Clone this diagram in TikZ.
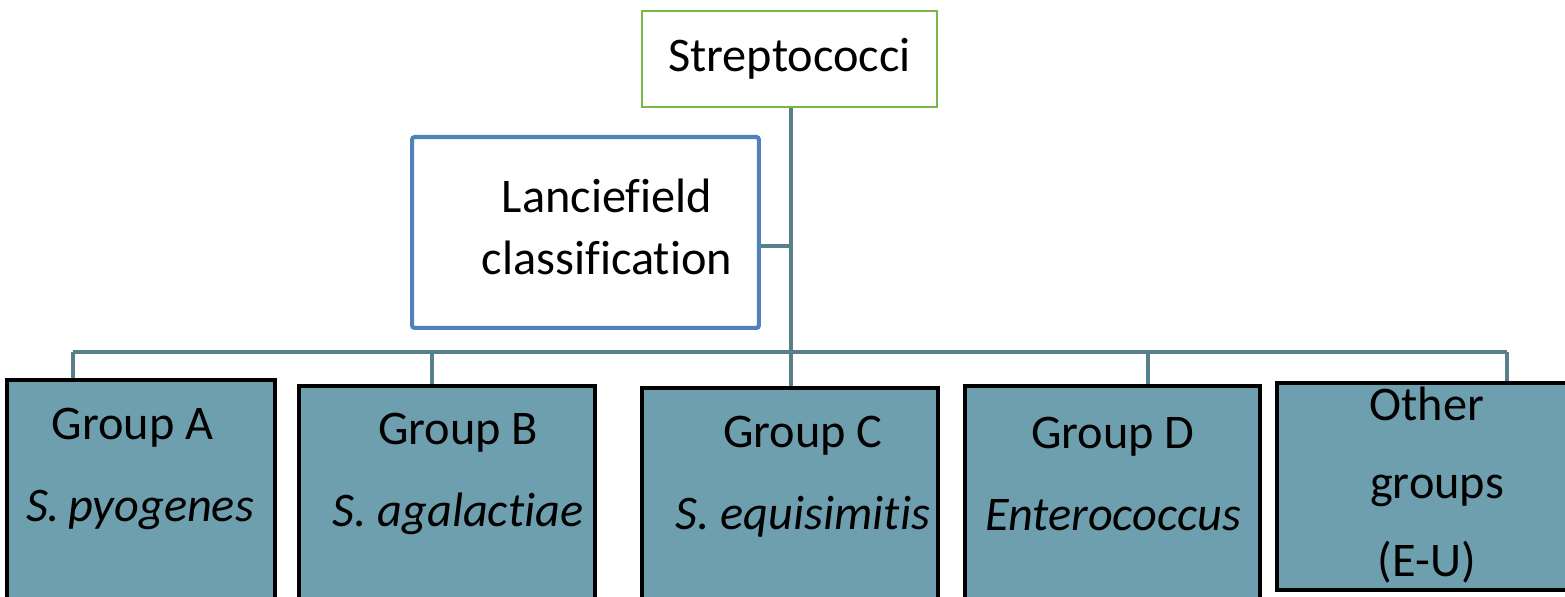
\documentclass[tikz,border=0pt]{standalone}
\usepackage{fontspec}
\setmainfont{Carlito}[Ligatures={NoCommon}]
\usepackage{xcolor}
\definecolor{StrepGreen}{HTML}{7AB648}
\definecolor{LanceBlue}{HTML}{4F81BD}
\definecolor{GroupFill}{HTML}{6E9FAE}
\definecolor{LinkTeal}{HTML}{58808C}
\usetikzlibrary{positioning, calc}

\begin{document}
\begin{tikzpicture}[
  x=0.02cm, y=-0.02cm,
  every node/.style={font=\fontsize{27.5}{46.7}\selectfont, inner sep=0pt},
  topbox/.style={rectangle, draw=StrepGreen, line width=1.3pt, fill=white, minimum width=5.9cm, minimum height=1.92cm},
  lancebox/.style={rectangle, rounded corners=1.5pt, draw=LanceBlue, line width=2.3pt, fill=white, minimum width=6.94cm, minimum height=3.82cm},
  grpbox/.style={rectangle, draw=black, line width=2.2pt, fill=GroupFill, minimum height=4.4cm},
  grptext/.style={align=center},
  trunk/.style={draw=LinkTeal, line width=2.2pt},
  drop/.style={draw=LinkTeal, line width=1.8pt}
]
  \useasboundingbox (0,0) rectangle (1565,597);
  \clip (0,0) rectangle (1565,597);

  % Top of the tree
  \node[topbox] (strep) at (789.5,59) {Streptococci};
  \node[lancebox] (lance) at (585.5,232.5) {};
  \node[grptext, font=\fontsize{27.5}{35.3}\selectfont] (lancetxt) at (607,227) {Lanciefield\\classification};

  % Groups
  \node[grpbox, minimum width=5.36cm, anchor=north] (grpA) at (141,378) {};
  \node[grpbox, minimum width=5.92cm, anchor=north] (grpB) at (447,384) {};
  \node[grpbox, minimum width=5.92cm, anchor=north] (grpC) at (790,386) {};
  \node[grpbox, minimum width=5.9cm, anchor=north] (grpD) at (1112.5,384) {};
  \node[grpbox, minimum width=5.8cm, minimum height=4.14cm, anchor=north] (grpE) at (1422,381) {};

  \node[grptext] (txtA) at (140,469) {\hspace*{-0.3cm}Group A\\\textit{S.\,pyogenes}};
  \node[grptext] (txtB) at (458,474) {Group B\\\textit{S. agalactiae}};
  \node[grptext] (txtC) at (803,477) {Group C\\\textit{S. equisimitis}};
  \node[grptext] (txtD) at (1113,474) {Group D\\\textit{Enterococcus}};
  \node[grptext, font=\fontsize{27.5}{44.5}\selectfont] (txtE) at (1427,485) {Other\\\hspace*{0.4cm}groups\\(E-U)};

  % Bus points
  \coordinate (busA) at (73,352);
  \coordinate (busB) at (432,352);
  \coordinate (busD) at (1148,352);
  \coordinate (busE) at (1507,352);

  % Connectors
  \draw[trunk] ([xshift=0.03cm]strep.south) -- ([xshift=0.03cm]strep.south |- grpC.north);
  \draw[trunk] ([yshift=-0.27cm]lance.east) -- ([yshift=-0.27cm,xshift=0.03cm]lance.east -| strep.south);
  \draw[trunk] (busA) -- (busE);
  \draw[drop] (busA) -- (busA |- grpA.north);
  \draw[drop] (busB) -- (busB |- grpB.north);
  \draw[drop] (busD) -- (busD |- grpD.north);
  \draw[drop] (busE) -- (busE |- grpE.north);
\end{tikzpicture}
\end{document}
